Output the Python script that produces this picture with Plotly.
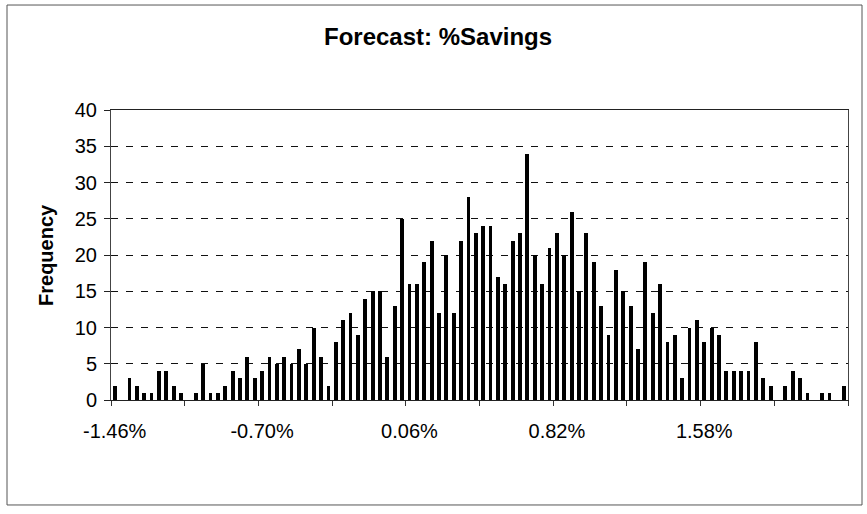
import plotly.graph_objects as go

# ---- data ----
bin_start = -1.46      # percent, centre of first bin
bin_width = 0.038      # percent
frequency = [2, 0, 3, 2, 1, 1, 4, 4, 2, 1,
             0, 1, 5, 1, 1, 2, 4, 3, 6, 3,
             4, 6, 5, 6, 5, 7, 5, 10, 6, 2,
             8, 11, 12, 9, 14, 15, 15, 6, 13, 25,
             16, 16, 19, 22, 12, 20, 12, 22, 28, 23,
             24, 24, 17, 16, 22, 23, 34, 20, 16, 21,
             23, 20, 26, 15, 23, 19, 13, 9, 18, 15,
             13, 7, 19, 12, 16, 8, 9, 3, 10, 11,
             8, 10, 9, 4, 4, 4, 4, 8, 3, 2,
             0, 2, 4, 3, 1, 0, 1, 1, 0, 2]
tick_labels = ["-1.46%", "-0.70%", "0.06%", "0.82%", "1.58%"]
label_every = 20
y_ticks = [0, 5, 10, 15, 20, 25, 30, 35, 40]

x_centres = [bin_start + bin_width * i for i in range(len(frequency))]
tick_vals = [x_centres[i] for i in range(0, len(frequency), label_every)][:len(tick_labels)]
x_lo = bin_start - bin_width / 2
x_hi = bin_start + bin_width * (len(frequency) - 0.5)

FONT = "Arial, 'Liberation Sans', sans-serif"

fig = go.Figure()
fig.add_trace(go.Bar(
    x=x_centres, y=frequency,
    width=bin_width * 0.52,
    marker=dict(color="black", line=dict(width=0)),
    hoverinfo="x+y",
))

fig.update_layout(
    width=867, height=514,
    margin=dict(l=111, r=19, t=110, b=114),
    paper_bgcolor="white", plot_bgcolor="white",
    showlegend=False,
    font=dict(family=FONT, size=20, color="black"),
    bargap=0,
    xaxis=dict(
        range=[x_lo, x_hi],
        tickvals=tick_vals, ticktext=tick_labels,
        ticks="", showgrid=False, zeroline=False,
        showline=True, linecolor="#222", linewidth=1, mirror=True,
        tickfont=dict(family=FONT, size=20, color="black"),
        ticklabelstandoff=13,
        minor=dict(ticks="outside", tick0=x_lo, dtick=bin_width * 10,
                   ticklen=5, tickcolor="#333", showgrid=False),
    ),
    yaxis=dict(
        range=[0, 40], tickvals=y_ticks,
        ticks="outside", ticklen=6, tickcolor="#222",
        showgrid=True, gridcolor="#111", gridwidth=1.2, griddash="7px,8px",
        zeroline=False,
        showline=True, linecolor="#444", linewidth=1, mirror=True,
        tickfont=dict(family=FONT, size=20, color="black"),
        ticklabelstandoff=3,
    ),
    shapes=[dict(type="rect", xref="paper", yref="paper",
                 x0=-0.1411, x1=1.019, y0=-0.362, y1=1.362,
                 line=dict(color="#555", width=1), layer="below")],
    annotations=[
        dict(text="<b>Forecast: %Savings</b>", xref="paper", yref="paper",
             x=0.4437, y=1.252, xanchor="center", yanchor="middle",
             showarrow=False, font=dict(family=FONT, size=24, color="black")),
        dict(text="<b>Frequency</b>", xref="paper", yref="paper",
             x=-0.0882, y=0.5, xanchor="center", yanchor="middle",
             textangle=-90, showarrow=False,
             font=dict(family=FONT, size=20, color="black")),
    ],
)

fig.write_html("out.html",
               config={"displayModeBar": False},
               post_script="document.body.style.margin='0';document.body.style.overflow='hidden';")
